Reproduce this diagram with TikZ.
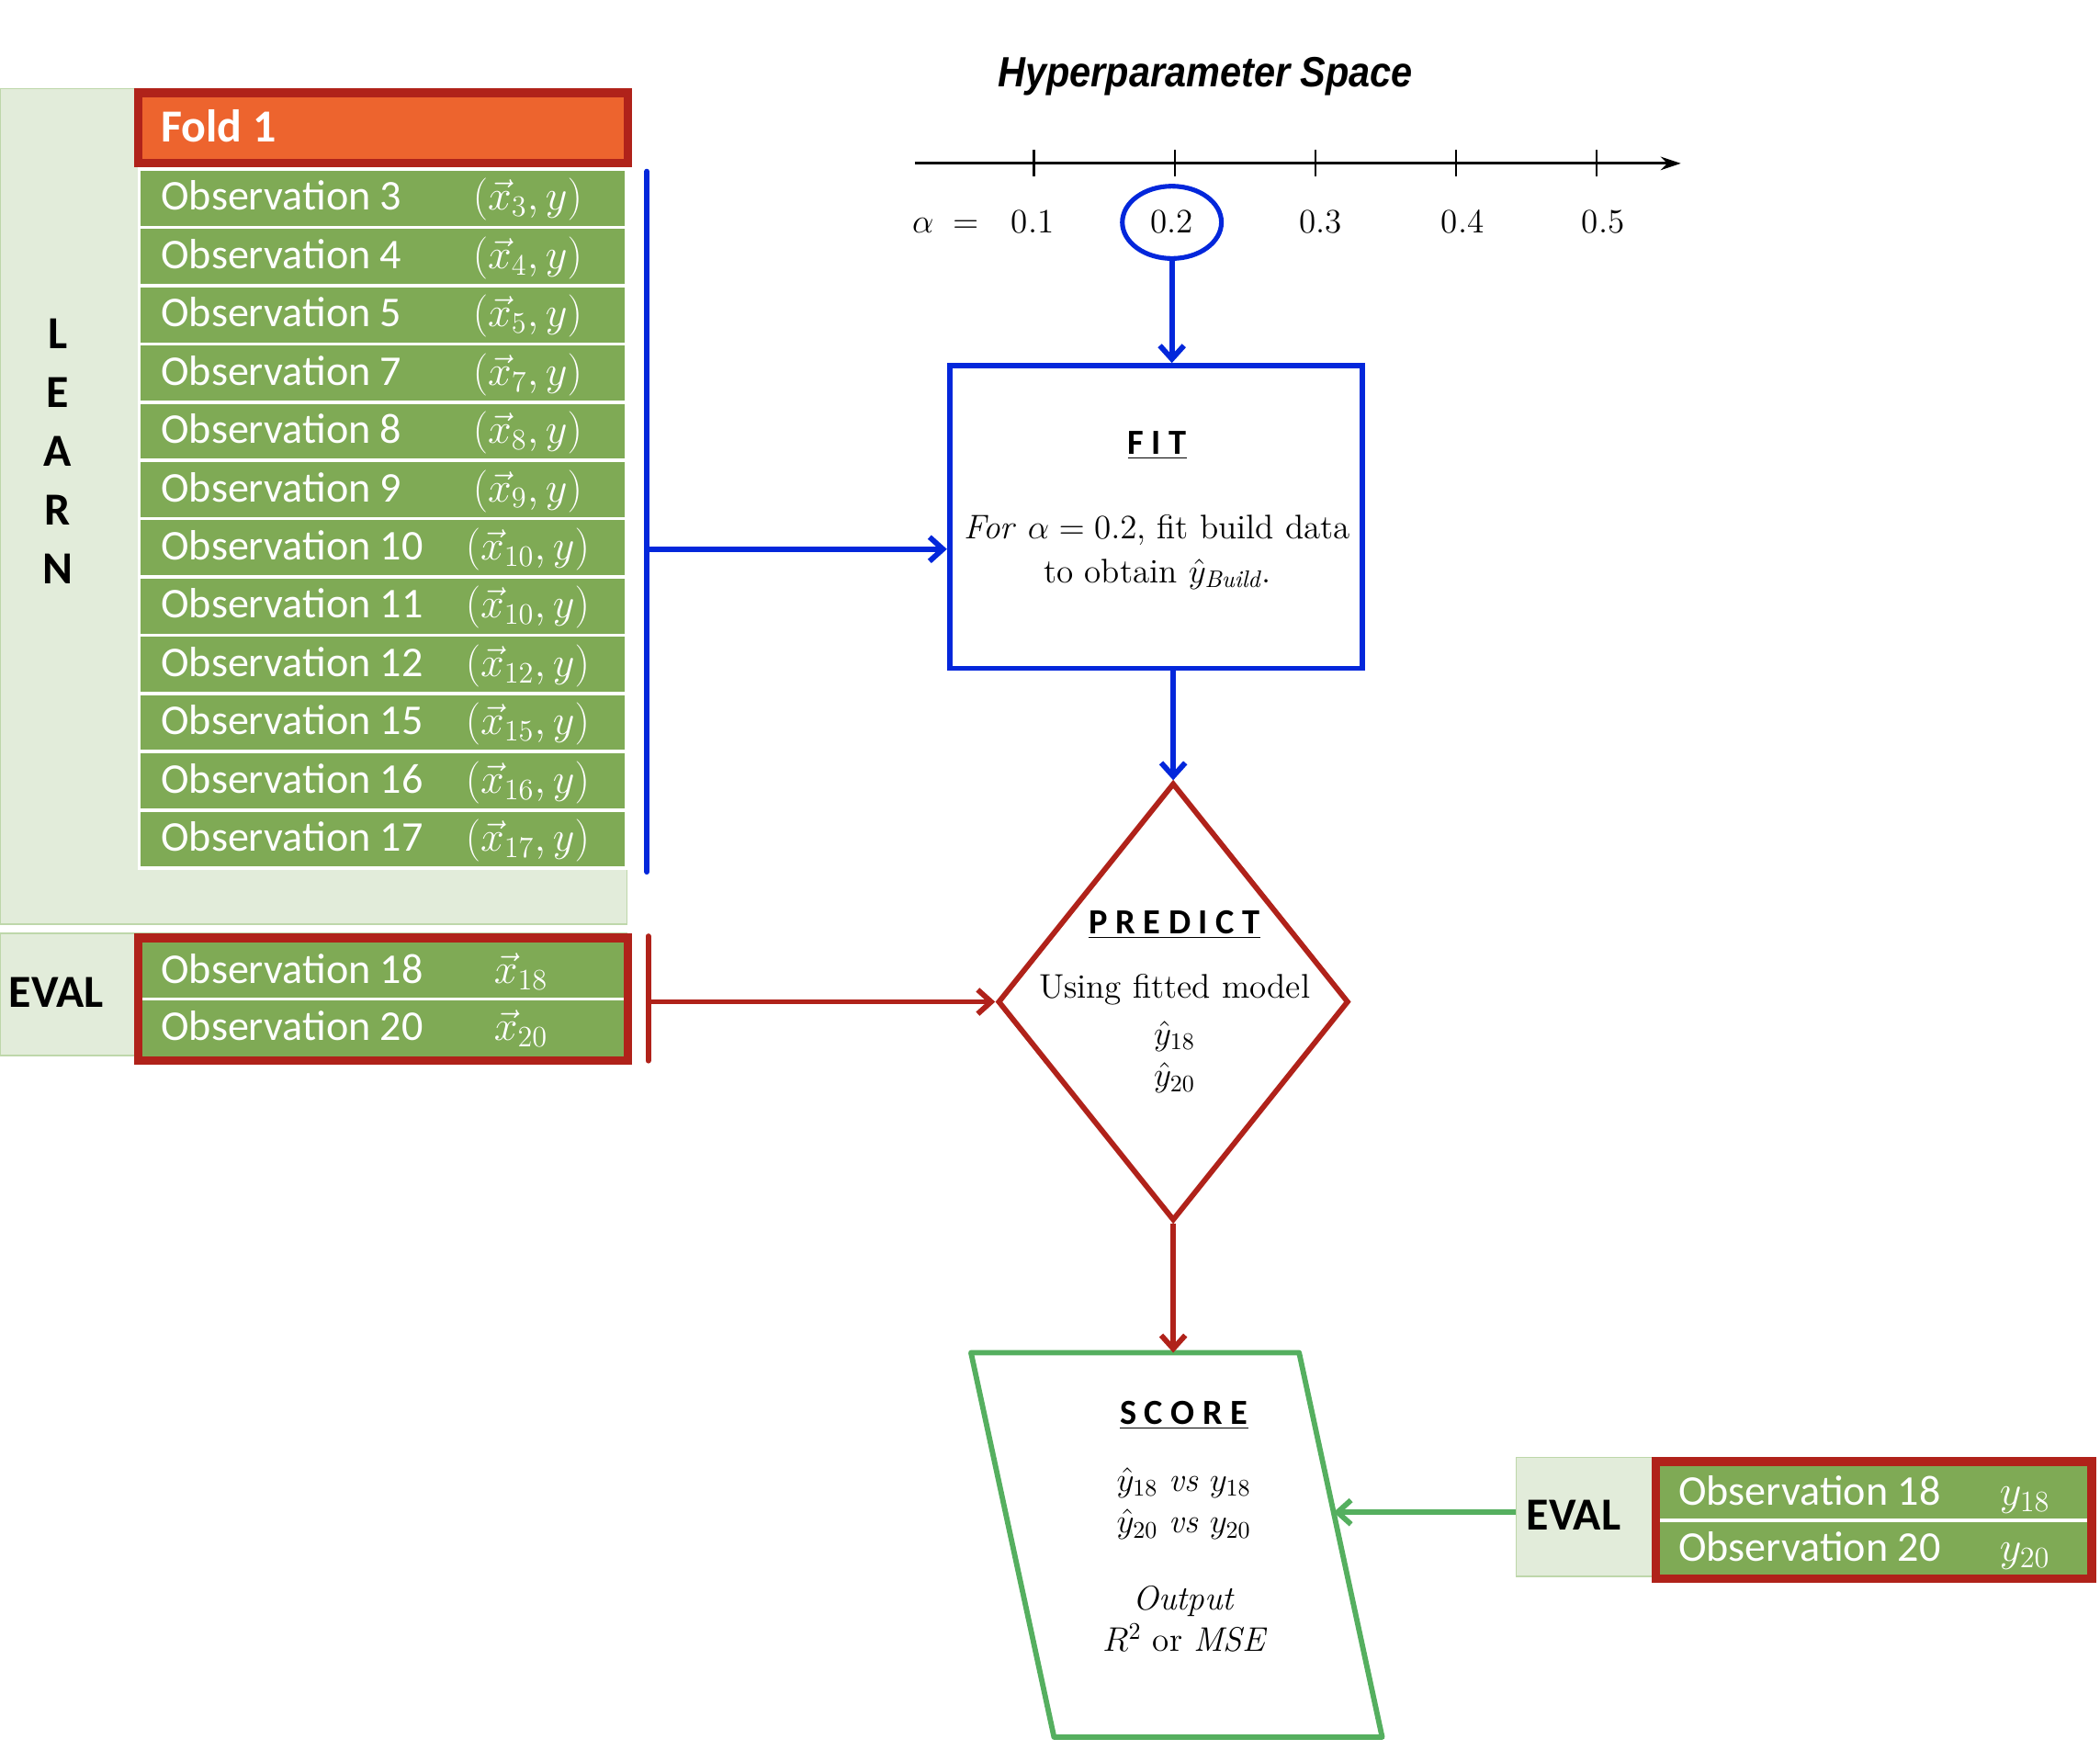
\documentclass[tikz,border=0pt]{standalone}
\usepackage{fix-cm}
\usepackage{fontspec}
\newfontfamily\calibri{Carlito}
\newfontfamily\titlefont[FakeStretch=0.9]{Liberation Sans}
\usetikzlibrary{arrows.meta, calc, shapes.geometric}

\definecolor{learnbg}{RGB}{226,236,218}
\definecolor{bgedge}{RGB}{190,215,170}
\definecolor{obsgreen}{RGB}{127,170,85}
\definecolor{foldorange}{RGB}{237,100,46}
\definecolor{foldred}{RGB}{176,34,26}
\definecolor{fitblue}{RGB}{3,39,219}
\definecolor{scoregreen}{RGB}{85,175,95}

\newcommand{\obsfont}{\calibri\fontsize{18}{22}\selectfont}
\newcommand{\tagfont}{\calibri\bfseries\fontsize{19.5}{25}\selectfont}
\newcommand{\headfont}{\calibri\bfseries\fontsize{15}{18}\selectfont}
\newcommand{\bodyfont}{\fontsize{14.5}{17.6}\selectfont}

\begin{document}
\begin{tikzpicture}[x=0.02cm, y=-0.02cm,
  obsrow/.style={fill=obsgreen, draw=white, line width=0.05cm},
  obstext/.style={anchor=base west, text=white, font=\obsfont, inner sep=0pt},
  obsdata/.style={anchor=base, text=white, font=\obsfont, inner sep=0pt},
  redframe/.style={draw=foldred, line width=0.13cm},
  bgbox/.style={fill=learnbg, draw=bgedge, line width=0.02cm},
  bluearrow/.style={fitblue, line width=0.08cm, -{Straight Barb[length=0.2cm, width=0.36cm]}},
  redarrow/.style={foldred, line width=0.08cm, -{Straight Barb[length=0.2cm, width=0.36cm]}},
  greenarrow/.style={scoregreen, line width=0.08cm, -{Straight Barb[length=0.2cm, width=0.36cm]}}]
\useasboundingbox (0,0) rectangle (1568,1306);
% Learn background and fold header
\filldraw[bgbox] (0,66) rectangle (468,690);
\filldraw[fill=foldorange, redframe] (103.25,69.25) rectangle (468.75,121.75);
\node[anchor=base west, font=\tagfont, text=white, inner sep=0pt] (fold) at (120,106) {Fold 1};
\node[font=\tagfont, align=center] (learn) at (43,337) {L\\E\\A\\R\\N};
% Learn observations
\foreach \n/\s [count=\i from 0] in {3/3,4/4,5/5,7/7,8/8,9/9,10/10,11/10,12/12,15/15,16/16,17/17} {
  \pgfmathsetmacro{\yc}{148+43.5*\i}
  \filldraw[obsrow] (104,\yc-21.75) rectangle (468,\yc+21.75);
  \node[obstext] (obs\n) at (120,\yc+9) {Observation \n};
  \node[obsdata] (obs\n-x) at (394,\yc+9) {$(\vec{x}_{\s},y)$};
}
% Eval block on the left
\filldraw[bgbox] (0,697) rectangle (468,788);
\node[font=\tagfont] (evall) at (42,741) {EVAL};
\filldraw[obsrow] (105,702) rectangle (467,746);
\filldraw[obsrow] (105,746) rectangle (467,790);
\draw[redframe] (103.25,700.25) rectangle (468.75,791.75);
\node[obstext] (obs18) at (120,734) {Observation 18};
\node[obsdata] (obs18-x) at (389,734) {$\vec{x}_{18}$};
\node[obstext] (obs20) at (120,777) {Observation 20};
\node[obsdata] (obs20-x) at (389,777) {$\vec{x}_{20}$};
% Brackets
\draw[fitblue, line width=0.08cm, line cap=round] (483,128) coordinate (learn-top) -- (483,651) coordinate (learn-bot);
\coordinate (learn-mid) at (483,410);
\draw[foldred, line width=0.08cm, line cap=round] (484,699) coordinate (eval-top) -- (484,792) coordinate (eval-bot);
\coordinate (eval-mid) at (484,748);
% Hyperparameter axis
\node[font=\titlefont\bfseries\itshape\fontsize{18}{22}\selectfont] (title) at (900,57) {Hyperparameter Space};
\draw[line width=0.04cm, -{Stealth[length=0.3cm, width=0.2cm]}] (683,122) coordinate (axis-start) -- (1255,122) coordinate (axis-end);
\foreach \x in {772,877,982,1087,1192}
  \draw[line width=0.03cm] (\x,112) -- (\x,132);
\node[anchor=base, font=\bodyfont] (alpha) at (706,174) {$\alpha\;=$};
\foreach \v/\x in {1/771,3/986,4/1092,5/1197}
  \node[anchor=base, font=\bodyfont] (a\v) at (\x,174) {0.\v};
\node[ellipse, draw=fitblue, line width=0.07cm, minimum width=1.48cm, minimum height=1.08cm, inner sep=0pt, font=\bodyfont] (a2) at (875,166) {0.2};
% Fit box
\node[draw=fitblue, line width=0.08cm, minimum width=6.16cm, minimum height=4.52cm] (fit) at (863,386) {};
\node[align=center, font=\bodyfont] (fit-text) at (864,381) {{\headfont\underline{F I T}}\\[0.64cm]
\textit{For} $\alpha = 0.2$, fit build data\\[0.04cm]
to obtain $\hat{y}_{\mathit{Build}}$.};
% Predict diamond
\node[diamond, draw=foldred, line width=0.08cm, minimum width=5.24cm, minimum height=6.54cm, inner sep=0pt] (predict) at (876,748) {};
\node[align=center, font=\bodyfont] (predict-text) at (877,748) {{\headfont\underline{P R E D I C T}}\\[0.34cm]
Using fitted model\\[0.08cm]
$\hat{y}_{18}$\\
$\hat{y}_{20}$};
% Score parallelogram
\coordinate (score-nw) at (725,1010);
\coordinate (score-ne) at (970,1010);
\coordinate (score-se) at (1032,1297);
\coordinate (score-sw) at (787,1297);
\draw[scoregreen, line width=0.08cm, line join=round] (score-nw) -- (score-ne) -- (score-se) -- (score-sw) -- cycle;
\node[align=center, font=\bodyfont] (score) at (884,1140) {{\headfont\underline{S C O R E}}\\[0.38cm]
$\hat{y}_{18}$ \textit{vs} $y_{18}$\\
$\hat{y}_{20}$ \textit{vs} $y_{20}$\\[0.54cm]
\textit{Output}\\
$R^2$ or $\mathit{MSE}$};
% Eval block on the right
\node[bgbox, minimum width=2.08cm, minimum height=1.78cm, inner sep=0pt] (evalr) at (1184,1132.5) {};
\node[font=\tagfont] (evalr-label) at (1175,1131) {EVAL};
\filldraw[obsrow] (1238,1093) rectangle (1560,1135);
\filldraw[obsrow] (1238,1135) rectangle (1560,1177);
\draw[redframe] (1236.25,1091.25) rectangle (1561.75,1178.75);
\node[obstext] (tgt18) at (1253,1124) {Observation 18};
\node[obsdata] (tgt18-y) at (1512,1124) {$y_{18}$};
\node[obstext] (tgt20) at (1253,1166) {Observation 20};
\node[obsdata] (tgt20-y) at (1512,1166) {$y_{20}$};
% Connectors
\draw[bluearrow] (a2.south) -- (a2.south |- fit.north);
\draw[bluearrow] (learn-mid) -- (learn-mid -| fit.west);
\draw[bluearrow] (predict.north |- fit.south) -- (predict.north);
\draw[redarrow] (eval-mid) -- (predict.west);
\draw[redarrow] (predict.south) -- (predict.south |- score-nw);
\coordinate (score-hit) at ($(score-ne)!0.415!(score-se)$);
\draw[greenarrow] (score-hit -| evalr.west) -- (score-hit);
\end{tikzpicture}
\end{document}
